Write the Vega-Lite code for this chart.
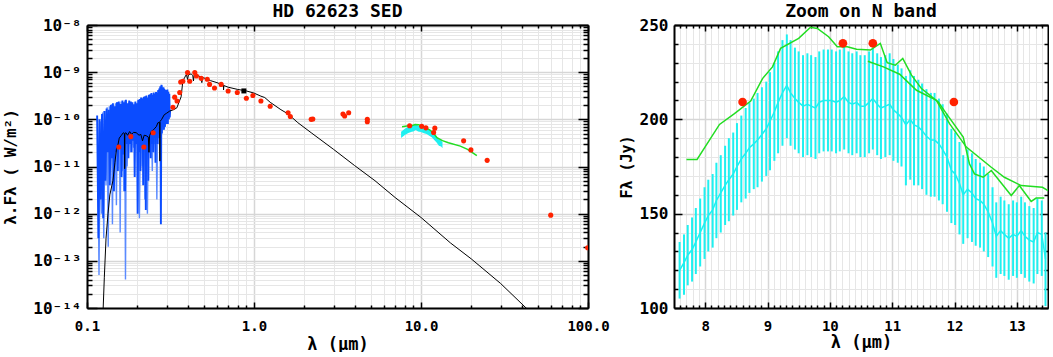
{
  "$schema": "https://vega.github.io/schema/vega-lite/v6.json",
  "padding": {"left": 2, "top": 3, "right": 0, "bottom": 0},
  "background": "white",
  "bounds": "flush",
  "spacing": 86,
  "config": {
    "view": {"stroke": null},
    "axis": {"labelFont": "DejaVu Sans Mono", "labelFontSize": 14, "labelFontWeight": "bold", "labelColor": "black", "titleFont": "DejaVu Sans Mono", "titleFontSize": 17, "titleFontWeight": "bold", "titleColor": "black", "tickColor": "black", "tickWidth": 1.5, "domainColor": "black", "domainWidth": 2, "labelFlush": false, "labelOverlap": false, "labelBound": false},
    "title": {"font": "DejaVu Sans Mono", "fontSize": 18, "fontWeight": "bold", "color": "black", "offset": -4, "anchor": "middle"}
  },
  "datasets": {
    "bl": [
      {"l":0.116,"v":1.0e-10},{"l":0.118,"v":5e-14},{"l":0.120,"v":9e-11},{"l":0.122,"v":1e-12},{"l":0.124,"v":1.4e-10},{"l":0.126,"v":3e-13},{"l":0.128,"v":1.5e-10},{"l":0.130,"v":4e-12},{"l":0.132,"v":1.8e-10},{"l":0.134,"v":2e-13},{"l":0.136,"v":1.9e-10},{"l":0.138,"v":1e-11},{"l":0.140,"v":2.1e-10},{"l":0.142,"v":6e-13},{"l":0.144,"v":2.0e-10},{"l":0.146,"v":5e-12},{"l":0.148,"v":2.2e-10},{"l":0.150,"v":1.5e-12},{"l":0.152,"v":2.3e-10},{"l":0.154,"v":2e-11},{"l":0.156,"v":2.2e-10},{"l":0.158,"v":4e-13},{"l":0.160,"v":2.4e-10},{"l":0.162,"v":8e-12},{"l":0.164,"v":2.2e-10},{"l":0.166,"v":3e-12},{"l":0.168,"v":2.5e-10},{"l":0.170,"v":4e-14},{"l":0.172,"v":2.4e-10},{"l":0.174,"v":1e-11},{"l":0.178,"v":2.3e-10},{"l":0.182,"v":2e-11},{"l":0.186,"v":2.2e-10},{"l":0.190,"v":2.5e-11},{"l":0.194,"v":2.3e-10},{"l":0.198,"v":3e-11},{"l":0.202,"v":2.5e-10},{"l":0.206,"v":8e-13},{"l":0.210,"v":2.8e-10},{"l":0.214,"v":1e-11},{"l":0.218,"v":2.9e-10},{"l":0.222,"v":2e-12},{"l":0.226,"v":3.0e-10},{"l":0.230,"v":1e-12},{"l":0.234,"v":3.2e-10},{"l":0.238,"v":2e-11},{"l":0.242,"v":3.4e-10},{"l":0.246,"v":8e-12},{"l":0.250,"v":3.5e-10},{"l":0.254,"v":3e-11},{"l":0.258,"v":3.7e-10},{"l":0.262,"v":2e-12},{"l":0.266,"v":4.0e-10},{"l":0.270,"v":4e-11},{"l":0.274,"v":4.8e-10},{"l":0.278,"v":5e-11},{"l":0.282,"v":5.2e-10},{"l":0.286,"v":6e-11},{"l":0.290,"v":4.5e-10},{"l":0.294,"v":7e-11},{"l":0.298,"v":4.1e-10},{"l":0.302,"v":9e-11},{"l":0.306,"v":3.9e-10},{"l":0.310,"v":1e-10}
    ],
    "bd": [
      {"l":0.115,"v":1.2e-10},{"l":0.117,"v":3e-13},{"l":0.119,"v":1.0e-10},{"l":0.121,"v":2e-12},{"l":0.123,"v":1.3e-10},{"l":0.125,"v":8e-13},{"l":0.127,"v":1.5e-10},{"l":0.129,"v":5e-12},{"l":0.131,"v":1.7e-10},{"l":0.133,"v":2e-11},{"l":0.135,"v":1.6e-10},{"l":0.137,"v":4e-12},{"l":0.139,"v":2.0e-10},{"l":0.141,"v":1.5e-11},{"l":0.143,"v":2.2e-10},{"l":0.145,"v":3e-12},{"l":0.147,"v":1.9e-10},{"l":0.149,"v":2e-11},{"l":0.151,"v":2.3e-10},{"l":0.153,"v":8e-12},{"l":0.155,"v":2.4e-10},{"l":0.157,"v":2.5e-11},{"l":0.159,"v":2.1e-10},{"l":0.161,"v":6e-12},{"l":0.163,"v":2.5e-10},{"l":0.165,"v":1.8e-11},{"l":0.167,"v":2.3e-10},{"l":0.169,"v":3e-12},{"l":0.171,"v":2.6e-10},{"l":0.173,"v":3e-11},{"l":0.175,"v":2.2e-10},{"l":0.177,"v":1.5e-11},{"l":0.179,"v":2.5e-10},{"l":0.181,"v":3e-11},{"l":0.183,"v":2.4e-10},{"l":0.185,"v":2e-11},{"l":0.187,"v":2.3e-10},{"l":0.189,"v":3.5e-11},{"l":0.191,"v":2.1e-10},{"l":0.193,"v":6e-12},{"l":0.195,"v":2.4e-10},{"l":0.197,"v":3e-11},{"l":0.199,"v":2.2e-10},{"l":0.201,"v":1e-12},{"l":0.203,"v":2.6e-10},{"l":0.205,"v":2e-11},{"l":0.207,"v":2.7e-10},{"l":0.209,"v":8e-12},{"l":0.211,"v":2.9e-10},{"l":0.213,"v":2.5e-11},{"l":0.215,"v":2.8e-10},{"l":0.217,"v":4e-12},{"l":0.219,"v":3.0e-10},{"l":0.221,"v":3e-11},{"l":0.223,"v":3.1e-10},{"l":0.225,"v":1.2e-12},{"l":0.227,"v":3.2e-10},{"l":0.229,"v":2e-11},{"l":0.231,"v":2.9e-10},{"l":0.233,"v":5e-12},{"l":0.235,"v":3.3e-10},{"l":0.237,"v":3e-11},{"l":0.239,"v":3.4e-10},{"l":0.241,"v":1.5e-11},{"l":0.243,"v":3.6e-10},{"l":0.245,"v":3e-11},{"l":0.247,"v":3.3e-10},{"l":0.249,"v":2e-11},{"l":0.251,"v":3.7e-10},{"l":0.253,"v":4e-11},{"l":0.255,"v":3.5e-10},{"l":0.257,"v":1.2e-11},{"l":0.259,"v":3.8e-10},{"l":0.261,"v":4e-11},{"l":0.263,"v":3.6e-10},{"l":0.265,"v":3e-11},{"l":0.267,"v":4.2e-10},{"l":0.269,"v":5e-11},{"l":0.271,"v":4.5e-10},{"l":0.273,"v":4e-11},{"l":0.275,"v":5.0e-10},{"l":0.277,"v":6e-13},{"l":0.279,"v":5.4e-10},{"l":0.281,"v":5e-11},{"l":0.283,"v":4.6e-10},{"l":0.285,"v":7e-11},{"l":0.287,"v":4.8e-10},{"l":0.289,"v":6e-11},{"l":0.291,"v":4.4e-10},{"l":0.293,"v":7e-11},{"l":0.295,"v":4.2e-10},{"l":0.297,"v":8e-11},{"l":0.299,"v":4.0e-10},{"l":0.301,"v":9e-11},{"l":0.303,"v":4.3e-10},{"l":0.305,"v":8e-11},{"l":0.307,"v":3.8e-10},{"l":0.309,"v":1e-10},{"l":0.311,"v":3.5e-10},{"l":0.313,"v":1.1e-10},{"l":0.315,"v":1.6e-10}
    ],
    "mod": [
      {"l":0.125,"v":1e-14},{"l":0.127,"v":4.5e-14},{"l":0.13,"v":3e-13},{"l":0.1336,"v":1e-12},{"l":0.137,"v":2.5e-12},{"l":0.141,"v":4e-12},{"l":0.143,"v":5e-12},{"l":0.147,"v":1.2e-11},{"l":0.150,"v":2.3e-11},{"l":0.153,"v":2.8e-11},{"l":0.156,"v":4e-11},{"l":0.16,"v":4.5e-11},{"l":0.165,"v":5.2e-11},{"l":0.1675,"v":5e-11},{"l":0.168,"v":9e-12},{"l":0.1685,"v":5e-11},{"l":0.171,"v":5.2e-11},{"l":0.175,"v":4.6e-11},{"l":0.18,"v":5.5e-11},{"l":0.185,"v":4.8e-11},{"l":0.19,"v":5.3e-11},{"l":0.197,"v":5.2e-11},{"l":0.205,"v":4.6e-11},{"l":0.21,"v":4.8e-11},{"l":0.215,"v":3.5e-11},{"l":0.22,"v":4.6e-11},{"l":0.226,"v":4.5e-11},{"l":0.233,"v":4.2e-11},{"l":0.235,"v":2e-11},{"l":0.237,"v":4.5e-11},{"l":0.243,"v":5.6e-11},{"l":0.25,"v":6e-11},{"l":0.255,"v":6.5e-11},{"l":0.26,"v":7e-11},{"l":0.266,"v":8.5e-11},{"l":0.2725,"v":8.5e-11},{"l":0.273,"v":1.3e-11},{"l":0.2735,"v":9e-11},{"l":0.28,"v":1e-10},{"l":0.29,"v":1.25e-10},{"l":0.30,"v":1.35e-10},{"l":0.313,"v":1.5e-10},{"l":0.33,"v":1.6e-10},{"l":0.345,"v":1.75e-10},{"l":0.358,"v":2.45e-10},{"l":0.366,"v":3e-10},{"l":0.375,"v":6.5e-10},{"l":0.385,"v":7.8e-10},{"l":0.394,"v":9e-10},{"l":0.40,"v":7e-10},{"l":0.405,"v":8.8e-10},{"l":0.42,"v":9.2e-10},{"l":0.43,"v":8.5e-10},{"l":0.434,"v":6.5e-10},{"l":0.438,"v":8.7e-10},{"l":0.45,"v":8.8e-10},{"l":0.486,"v":7.8e-10},{"l":0.487,"v":6e-10},{"l":0.49,"v":7.8e-10},{"l":0.5,"v":7.6e-10},{"l":0.55,"v":6.6e-10},{"l":0.6,"v":6e-10},{"l":0.656,"v":5.3e-10},{"l":0.657,"v":4.2e-10},{"l":0.66,"v":5.2e-10},{"l":0.7,"v":4.8e-10},{"l":0.8,"v":4.3e-10},{"l":0.9,"v":4e-10},{"l":1.0,"v":3.6e-10},{"l":1.1,"v":3.1e-10},{"l":1.16,"v":2.9e-10},{"l":1.25,"v":2.3e-10},{"l":1.45,"v":1.6e-10},{"l":1.6,"v":1.3e-10},{"l":1.83,"v":8.5e-11},{"l":2.2,"v":5.2e-11},{"l":3.0,"v":2.3e-11},{"l":4.0,"v":1.05e-11},{"l":5.3,"v":5e-12},{"l":7.0,"v":2.2e-12},{"l":10,"v":8.3e-13},{"l":15,"v":2.4e-13},{"l":20,"v":1.1e-13},{"l":30,"v":3.3e-14},{"l":42.6,"v":1e-14},{"l":60,"v":3.6e-15}
    ],
    "band": [
      {"l":7.6,"lo":4.03e-11,"hi":5.45e-11},{"l":8.0,"lo":4.66e-11,"hi":6.30e-11},{"l":8.4,"lo":5.13e-11,"hi":6.95e-11},{"l":8.8,"lo":5.45e-11,"hi":7.37e-11},{"l":9.0,"lo":5.55e-11,"hi":7.51e-11},{"l":9.3,"lo":5.95e-11,"hi":8.05e-11},{"l":9.6,"lo":5.50e-11,"hi":7.44e-11},{"l":10.0,"lo":5.36e-11,"hi":7.25e-11},{"l":10.4,"lo":5.10e-11,"hi":6.90e-11},{"l":10.8,"lo":4.89e-11,"hi":6.61e-11},{"l":11.2,"lo":4.51e-11,"hi":6.10e-11},{"l":11.6,"lo":4.17e-11,"hi":5.65e-11},{"l":12.0,"lo":3.66e-11,"hi":4.95e-11},{"l":12.4,"lo":3.23e-11,"hi":4.37e-11},{"l":12.8,"lo":2.77e-11,"hi":3.75e-11},{"l":13.2,"lo":2.64e-11,"hi":3.58e-11},{"l":13.45,"lo":2.43e-11,"hi":3.29e-11}
    ],
    "gsed": [
      {"l":7.70,"v":6.96e-11},{"l":8.23,"v":7.19e-11},{"l":8.73,"v":7.21e-11},{"l":9.21,"v":7.74e-11},{"l":9.69,"v":7.70e-11},{"l":10.12,"v":7.07e-11},{"l":10.65,"v":6.67e-11},{"l":11.31,"v":5.93e-11},{"l":11.87,"v":5.13e-11},{"l":12.46,"v":4.07e-11},{"l":13.44,"v":3.53e-11},{"l":14.6,"v":3.2e-11},{"l":17.2,"v":2.7e-11},{"l":19.0,"v":2.3e-11},{"l":20.0,"v":2.05e-11},{"l":21.6,"v":1.7e-11}
    ],
    "red": [
      {"l":0.155,"v":2.6e-11},{"l":0.183,"v":4.3e-11},{"l":0.219,"v":2.6e-11},{"l":0.249,"v":5.2e-11},{"l":0.327,"v":1.8e-10},{"l":0.335,"v":2.95e-10},{"l":0.346,"v":2.45e-10},{"l":0.359,"v":3.7e-10},{"l":0.364,"v":6.2e-10},{"l":0.375,"v":6.4e-10},{"l":0.40,"v":9.8e-10},{"l":0.412,"v":6.4e-10},{"l":0.442,"v":9.8e-10},{"l":0.452,"v":8.3e-10},{"l":0.483,"v":7.4e-10},{"l":0.525,"v":7.1e-10},{"l":0.542,"v":5.5e-10},{"l":0.58,"v":4.6e-10},{"l":0.636,"v":5.5e-10},{"l":0.70,"v":4.0e-10},{"l":0.794,"v":3.7e-10},{"l":0.90,"v":2.8e-10},{"l":0.985,"v":3.2e-10},{"l":1.10,"v":2.45e-10},{"l":1.25,"v":1.9e-10},{"l":1.60,"v":1.38e-10},{"l":1.65,"v":1.15e-10},{"l":2.2,"v":1.0e-10},{"l":2.25,"v":1.02e-10},{"l":3.41,"v":1.29e-10},{"l":3.49,"v":1.18e-10},{"l":3.69,"v":1.38e-10},{"l":4.77,"v":1.0e-10},{"l":4.77,"v":8.9e-11},{"l":8.55,"v":7.3e-11},{"l":10.1,"v":7.1e-11},{"l":10.7,"v":6.6e-11},{"l":12.1,"v":6.5e-11},{"l":11.9,"v":5.25e-11},{"l":18.0,"v":3.5e-11},{"l":19.9,"v":2.25e-11},{"l":24.9,"v":1.35e-11},{"l":59.8,"v":9.3e-13},{"l":99.5,"v":1.9e-13}
    ],
    "blk": [{"l":0.87,"v":4.0e-10}],
    "midi": [
      {"l":7.59,"c":120,"lo":105,"hi":135},{"l":7.66,"c":124,"lo":107,"hi":139},{"l":7.72,"c":128,"lo":112,"hi":144},{"l":7.79,"c":131,"lo":114,"hi":148},{"l":7.85,"c":135,"lo":118,"hi":153},{"l":7.92,"c":140,"lo":122,"hi":158},{"l":7.99,"c":145,"lo":126,"hi":164},{"l":8.05,"c":149,"lo":130,"hi":168},{"l":8.12,"c":152,"lo":132,"hi":171},{"l":8.18,"c":157,"lo":137,"hi":177},{"l":8.25,"c":161,"lo":140,"hi":181},{"l":8.32,"c":165,"lo":144,"hi":186},{"l":8.38,"c":168,"lo":146,"hi":190},{"l":8.45,"c":171,"lo":149,"hi":193},{"l":8.51,"c":175,"lo":152,"hi":198},{"l":8.58,"c":179,"lo":156,"hi":202},{"l":8.65,"c":182,"lo":158,"hi":206},{"l":8.71,"c":185,"lo":161,"hi":209},{"l":8.78,"c":187,"lo":163,"hi":211},{"l":8.84,"c":189,"lo":164,"hi":214},{"l":8.91,"c":192,"lo":167,"hi":217},{"l":8.98,"c":195,"lo":170,"hi":220},{"l":9.04,"c":199,"lo":173,"hi":225},{"l":9.11,"c":204,"lo":178,"hi":230},{"l":9.17,"c":209,"lo":182,"hi":236},{"l":9.24,"c":214,"lo":186,"hi":242},{"l":9.31,"c":218,"lo":190,"hi":245},{"l":9.37,"c":214,"lo":186,"hi":242},{"l":9.44,"c":211,"lo":184,"hi":238},{"l":9.50,"c":209,"lo":182,"hi":236},{"l":9.57,"c":207,"lo":180,"hi":234},{"l":9.64,"c":208,"lo":181,"hi":235},{"l":9.70,"c":207,"lo":180,"hi":234},{"l":9.77,"c":206,"lo":179,"hi":233},{"l":9.83,"c":209,"lo":182,"hi":236},{"l":9.90,"c":210,"lo":183,"hi":237},{"l":9.97,"c":210,"lo":183,"hi":237},{"l":10.03,"c":210,"lo":183,"hi":237},{"l":10.10,"c":209,"lo":182,"hi":236},{"l":10.16,"c":210,"lo":183,"hi":237},{"l":10.23,"c":212,"lo":184,"hi":240},{"l":10.30,"c":209,"lo":182,"hi":236},{"l":10.36,"c":208,"lo":181,"hi":235},{"l":10.43,"c":209,"lo":182,"hi":236},{"l":10.49,"c":207,"lo":180,"hi":234},{"l":10.56,"c":207,"lo":180,"hi":234},{"l":10.63,"c":209,"lo":182,"hi":236},{"l":10.69,"c":211,"lo":184,"hi":238},{"l":10.76,"c":208,"lo":181,"hi":235},{"l":10.82,"c":206,"lo":179,"hi":233},{"l":10.89,"c":207,"lo":180,"hi":234},{"l":10.96,"c":208,"lo":181,"hi":235},{"l":11.02,"c":205,"lo":178,"hi":232},{"l":11.09,"c":203,"lo":177,"hi":229},{"l":11.15,"c":201,"lo":175,"hi":227},{"l":11.22,"c":197,"lo":165,"hi":223},{"l":11.29,"c":200,"lo":168,"hi":226},{"l":11.35,"c":197,"lo":165,"hi":223},{"l":11.42,"c":196,"lo":165,"hi":221},{"l":11.48,"c":194,"lo":163,"hi":219},{"l":11.55,"c":191,"lo":160,"hi":216},{"l":11.62,"c":189,"lo":159,"hi":214},{"l":11.68,"c":189,"lo":159,"hi":214},{"l":11.75,"c":187,"lo":157,"hi":211},{"l":11.81,"c":184,"lo":155,"hi":208},{"l":11.88,"c":180,"lo":151,"hi":203},{"l":11.95,"c":173,"lo":145,"hi":195},{"l":12.01,"c":171,"lo":144,"hi":193},{"l":12.08,"c":166,"lo":139,"hi":188},{"l":12.14,"c":160,"lo":134,"hi":181},{"l":12.21,"c":163,"lo":137,"hi":184},{"l":12.28,"c":161,"lo":135,"hi":182},{"l":12.34,"c":158,"lo":133,"hi":179},{"l":12.41,"c":157,"lo":132,"hi":177},{"l":12.47,"c":155,"lo":130,"hi":175},{"l":12.54,"c":151,"lo":127,"hi":171},{"l":12.61,"c":145,"lo":122,"hi":164},{"l":12.67,"c":138,"lo":116,"hi":156},{"l":12.74,"c":141,"lo":118,"hi":159},{"l":12.80,"c":139,"lo":117,"hi":157},{"l":12.87,"c":137,"lo":115,"hi":155},{"l":12.94,"c":139,"lo":117,"hi":157},{"l":13.00,"c":138,"lo":116,"hi":156},{"l":13.07,"c":141,"lo":118,"hi":159},{"l":13.13,"c":138,"lo":116,"hi":156},{"l":13.20,"c":136,"lo":114,"hi":154},{"l":13.27,"c":135,"lo":113,"hi":153},{"l":13.33,"c":140,"lo":118,"hi":158},{"l":13.40,"c":139,"lo":117,"hi":157},{"l":13.46,"c":126,"lo":101,"hi":140}
    ],
    "green": [
      {"s":1,"l":7.70,"f":178.7},{"s":1,"l":7.87,"f":178.7},{"s":1,"l":8.23,"f":197.3},{"s":1,"l":8.47,"f":203},{"s":1,"l":8.73,"f":209.7},{"s":1,"l":8.92,"f":221.6},{"s":1,"l":9.08,"f":227.8},{"s":1,"l":9.21,"f":237.6},{"s":1,"l":9.50,"f":242.9},{"s":1,"l":9.69,"f":248.8},{"s":1,"l":9.80,"f":248.2},{"s":1,"l":9.98,"f":243.8},{"s":1,"l":10.12,"f":238.5},{"s":1,"l":10.28,"f":238.5},{"s":1,"l":10.43,"f":237.2},{"s":1,"l":10.65,"f":236.7},{"s":1,"l":10.81,"f":240.3},{"s":1,"l":10.92,"f":230},{"s":1,"l":11.05,"f":228.7},{"s":1,"l":11.17,"f":232.3},{"s":1,"l":11.31,"f":223.4},{"s":1,"l":11.47,"f":216.3},{"s":1,"l":11.74,"f":209.2},{"s":1,"l":11.87,"f":203},{"s":1,"l":12.14,"f":190.6},{"s":1,"l":12.24,"f":176.4},{"s":1,"l":12.32,"f":171.1},{"s":1,"l":12.46,"f":169.3},{"s":1,"l":12.59,"f":172.9},{"s":1,"l":12.91,"f":159.6},{"s":1,"l":13.04,"f":164.9},{"s":1,"l":13.23,"f":156.5},{"s":1,"l":13.31,"f":158.3},{"s":1,"l":13.44,"f":158.3},
      {"s":2,"l":10.61,"f":230.8},{"s":2,"l":10.86,"f":227.8},{"s":2,"l":11.12,"f":223.9},{"s":2,"l":11.39,"f":215.4},{"s":2,"l":11.71,"f":210.1},{"s":2,"l":11.92,"f":197.7},{"s":2,"l":12.19,"f":185.3},{"s":2,"l":12.59,"f":174.6},{"s":2,"l":12.80,"f":169.3},{"s":2,"l":13.07,"f":164.9},{"s":2,"l":13.41,"f":164},{"s":2,"l":13.5,"f":162.2}
    ],
    "redn": [
      {"l":8.60,"f":209.2},{"l":10.21,"f":240.3},{"l":10.69,"f":240.3},{"l":11.99,"f":209.2}
    ]
  },
  "hconcat": [
    {
      "width": 501,
      "height": 283,
      "title": {"text": "HD 62623 SED"},
      "resolve": {"axis": {"x": "independent", "y": "independent"}},
      "layer": [
        {
          "data": {"name": "bl"},
          "mark": {"type": "line", "color": "#5a8aff", "strokeWidth": 1.4, "clip": true},
          "encoding": {
            "x": {"field": "l", "type": "quantitative", "scale": {"type": "log", "domain": [0.1, 100], "nice": false},
              "axis": {"orient": "bottom", "values": [0.1, 1, 10, 100], "labelExpr": "format(datum.value, '.1f')", "tickSize": -6, "labelPadding": 17, "grid": true, "gridColor": "#d6d6d6", "gridWidth": 1.5, "title": "λ (μm)", "titlePadding": 3}},
            "y": {"field": "v", "type": "quantitative", "scale": {"type": "log", "domain": [1e-14, 1e-8], "nice": false},
              "axis": {"orient": "left", "values": [1e-14, 1e-13, 1e-12, 1e-11, 1e-10, 1e-9, 1e-8], "labelExpr": "datum.value < 5e-14 ? '10⁻¹⁴' : datum.value < 5e-13 ? '10⁻¹³' : datum.value < 5e-12 ? '10⁻¹²' : datum.value < 5e-11 ? '10⁻¹¹' : datum.value < 5e-10 ? '10⁻¹⁰' : datum.value < 5e-9 ? '10⁻⁹' : '10⁻⁸'", "labelFontSize": 16, "tickSize": -10, "labelPadding": 16, "grid": true, "gridColor": "#d6d6d6", "gridWidth": 1.5, "title": "λ.Fλ  ( W/m²)", "titleFontSize": 16, "titlePadding": 14}}
          }
        },
        {
          "data": {"name": "bd"},
          "mark": {"type": "line", "color": "#0b4cff", "strokeWidth": 1.9, "clip": true},
          "encoding": {
            "x": {"field": "l", "type": "quantitative", "scale": {"type": "log", "domain": [0.1, 100], "nice": false},
              "axis": {"orient": "bottom", "values": [0.2, 0.3, 0.4, 0.5, 0.6, 0.7, 0.8, 0.9, 2, 3, 4, 5, 6, 7, 8, 9, 20, 30, 40, 50, 60, 70, 80, 90], "labels": false, "tickSize": -3, "domain": false, "grid": true, "gridColor": "#e6e6e6", "gridWidth": 1, "title": null}},
            "y": {"field": "v", "type": "quantitative", "scale": {"type": "log", "domain": [1e-14, 1e-8], "nice": false},
              "axis": {"orient": "left", "values": [2e-14, 3e-14, 4e-14, 5e-14, 6e-14, 7e-14, 8e-14, 9e-14, 2e-13, 3e-13, 4e-13, 5e-13, 6e-13, 7e-13, 8e-13, 9e-13, 2e-12, 3e-12, 4e-12, 5e-12, 6e-12, 7e-12, 8e-12, 9e-12, 2e-11, 3e-11, 4e-11, 5e-11, 6e-11, 7e-11, 8e-11, 9e-11, 2e-10, 3e-10, 4e-10, 5e-10, 6e-10, 7e-10, 8e-10, 9e-10, 2e-9, 3e-9, 4e-9, 5e-9, 6e-9, 7e-9, 8e-9, 9e-9], "labels": false, "tickSize": -5, "domain": false, "grid": true, "gridColor": "#e6e6e6", "gridWidth": 1, "title": null}}
          }
        },
        {
          "data": {"name": "mod"},
          "mark": {"type": "line", "color": "black", "strokeWidth": 1, "clip": true},
          "encoding": {
            "x": {"field": "l", "type": "quantitative", "scale": {"type": "log", "domain": [0.1, 100], "nice": false},
              "axis": {"orient": "top", "values": [0.1, 1, 10, 100], "labels": false, "tickSize": -6, "grid": false, "title": null}},
            "y": {"field": "v", "type": "quantitative", "scale": {"type": "log", "domain": [1e-14, 1e-8], "nice": false},
              "axis": {"orient": "right", "values": [1e-14, 1e-13, 1e-12, 1e-11, 1e-10, 1e-9, 1e-8], "labels": false, "tickSize": -10, "grid": false, "title": null}}
          }
        },
        {
          "data": {"name": "band"},
          "mark": {"type": "area", "color": "#1ef0f0", "opacity": 1, "clip": true},
          "encoding": {
            "x": {"field": "l", "type": "quantitative", "scale": {"type": "log", "domain": [0.1, 100], "nice": false},
              "axis": {"orient": "top", "values": [0.2, 0.3, 0.4, 0.5, 0.6, 0.7, 0.8, 0.9, 2, 3, 4, 5, 6, 7, 8, 9, 20, 30, 40, 50, 60, 70, 80, 90], "labels": false, "tickSize": -3, "domain": false, "grid": false, "title": null}},
            "y": {"field": "lo", "type": "quantitative", "scale": {"type": "log", "domain": [1e-14, 1e-8], "nice": false},
              "axis": {"orient": "right", "values": [2e-14, 3e-14, 4e-14, 5e-14, 6e-14, 7e-14, 8e-14, 9e-14, 2e-13, 3e-13, 4e-13, 5e-13, 6e-13, 7e-13, 8e-13, 9e-13, 2e-12, 3e-12, 4e-12, 5e-12, 6e-12, 7e-12, 8e-12, 9e-12, 2e-11, 3e-11, 4e-11, 5e-11, 6e-11, 7e-11, 8e-11, 9e-11, 2e-10, 3e-10, 4e-10, 5e-10, 6e-10, 7e-10, 8e-10, 9e-10, 2e-9, 3e-9, 4e-9, 5e-9, 6e-9, 7e-9, 8e-9, 9e-9], "labels": false, "tickSize": -5, "domain": false, "grid": false, "title": null}},
            "y2": {"field": "hi"}
          }
        },
        {
          "data": {"name": "gsed"},
          "mark": {"type": "line", "color": "#22dd22", "strokeWidth": 1.5, "clip": true},
          "encoding": {
            "x": {"field": "l", "type": "quantitative", "scale": {"type": "log", "domain": [0.1, 100], "nice": false}, "axis": null},
            "y": {"field": "v", "type": "quantitative", "scale": {"type": "log", "domain": [1e-14, 1e-8], "nice": false}, "axis": null}
          }
        },
        {
          "data": {"name": "red"},
          "mark": {"type": "circle", "color": "#ff2200", "opacity": 1, "size": 26, "clip": true},
          "encoding": {
            "x": {"field": "l", "type": "quantitative", "scale": {"type": "log", "domain": [0.1, 100], "nice": false}, "axis": null},
            "y": {"field": "v", "type": "quantitative", "scale": {"type": "log", "domain": [1e-14, 1e-8], "nice": false}, "axis": null}
          }
        },
        {
          "data": {"name": "blk"},
          "mark": {"type": "square", "color": "black", "opacity": 1, "size": 25, "clip": true},
          "encoding": {
            "x": {"field": "l", "type": "quantitative", "scale": {"type": "log", "domain": [0.1, 100], "nice": false}, "axis": null},
            "y": {"field": "v", "type": "quantitative", "scale": {"type": "log", "domain": [1e-14, 1e-8], "nice": false}, "axis": null}
          }
        }
      ]
    },
    {
      "width": 374,
      "height": 283,
      "title": {"text": "Zoom on N band"},
      "resolve": {"axis": {"x": "independent", "y": "independent"}},
      "layer": [
        {
          "data": {"name": "midi"},
          "mark": {"type": "rule", "color": "#1ef0f0", "strokeWidth": 2, "clip": true},
          "encoding": {
            "x": {"field": "l", "type": "quantitative", "scale": {"domain": [7.5, 13.5], "nice": false, "zero": false},
              "axis": {"orient": "bottom", "values": [8, 9, 10, 11, 12, 13], "format": "d", "tickSize": -6, "labelPadding": 17, "grid": true, "gridColor": "#d6d6d6", "gridWidth": 1.5, "title": "λ (μm)", "titlePadding": 1}},
            "y": {"field": "lo", "type": "quantitative", "scale": {"domain": [100, 250], "nice": false, "zero": false},
              "axis": {"orient": "left", "values": [100, 150, 200, 250], "format": "d", "labelFontSize": 16, "tickSize": -8, "labelPadding": 14, "grid": true, "gridColor": "#d6d6d6", "gridWidth": 1.5, "title": "Fλ  (Jy)", "titleFontSize": 15, "titlePadding": 5}},
            "y2": {"field": "hi"}
          }
        },
        {
          "data": {"name": "midi"},
          "mark": {"type": "line", "color": "#1ef0f0", "strokeWidth": 1.5, "clip": true},
          "encoding": {
            "x": {"field": "l", "type": "quantitative", "scale": {"domain": [7.5, 13.5], "nice": false, "zero": false},
              "axis": {"orient": "bottom", "values": [7.6, 7.7, 7.8, 7.9, 8.1, 8.2, 8.3, 8.4, 8.5, 8.6, 8.7, 8.8, 8.9, 9.1, 9.2, 9.3, 9.4, 9.5, 9.6, 9.7, 9.8, 9.9, 10.1, 10.2, 10.3, 10.4, 10.5, 10.6, 10.7, 10.8, 10.9, 11.1, 11.2, 11.3, 11.4, 11.5, 11.6, 11.7, 11.8, 11.9, 12.1, 12.2, 12.3, 12.4, 12.5, 12.6, 12.7, 12.8, 12.9, 13.1, 13.2, 13.3, 13.4], "labels": false, "tickSize": -3, "domain": false, "grid": true, "gridColor": "#e6e6e6", "gridWidth": 1, "title": null}},
            "y": {"field": "c", "type": "quantitative", "scale": {"domain": [100, 250], "nice": false, "zero": false},
              "axis": {"orient": "left", "values": [110, 120, 130, 140, 160, 170, 180, 190, 210, 220, 230, 240], "labels": false, "tickSize": -4, "domain": false, "grid": true, "gridColor": "#e6e6e6", "gridWidth": 1, "title": null}}
          }
        },
        {
          "data": {"name": "green"},
          "mark": {"type": "line", "color": "#22dd22", "strokeWidth": 1.5, "clip": true},
          "encoding": {
            "x": {"field": "l", "type": "quantitative", "scale": {"domain": [7.5, 13.5], "nice": false, "zero": false},
              "axis": {"orient": "top", "values": [8, 9, 10, 11, 12, 13], "labels": false, "tickSize": -6, "grid": false, "title": null}},
            "y": {"field": "f", "type": "quantitative", "scale": {"domain": [100, 250], "nice": false, "zero": false},
              "axis": {"orient": "right", "values": [100, 150, 200, 250], "labels": false, "tickSize": -8, "grid": false, "title": null}},
            "detail": {"field": "s", "type": "nominal"}
          }
        },
        {
          "data": {"name": "redn"},
          "mark": {"type": "circle", "color": "#ff2200", "opacity": 1, "size": 75, "clip": true},
          "encoding": {
            "x": {"field": "l", "type": "quantitative", "scale": {"domain": [7.5, 13.5], "nice": false, "zero": false},
              "axis": {"orient": "top", "values": [7.6, 7.7, 7.8, 7.9, 8.1, 8.2, 8.3, 8.4, 8.5, 8.6, 8.7, 8.8, 8.9, 9.1, 9.2, 9.3, 9.4, 9.5, 9.6, 9.7, 9.8, 9.9, 10.1, 10.2, 10.3, 10.4, 10.5, 10.6, 10.7, 10.8, 10.9, 11.1, 11.2, 11.3, 11.4, 11.5, 11.6, 11.7, 11.8, 11.9, 12.1, 12.2, 12.3, 12.4, 12.5, 12.6, 12.7, 12.8, 12.9, 13.1, 13.2, 13.3, 13.4], "labels": false, "tickSize": -3, "domain": false, "grid": false, "title": null}},
            "y": {"field": "f", "type": "quantitative", "scale": {"domain": [100, 250], "nice": false, "zero": false},
              "axis": {"orient": "right", "values": [110, 120, 130, 140, 160, 170, 180, 190, 210, 220, 230, 240], "labels": false, "tickSize": -4, "domain": false, "grid": false, "title": null}}
          }
        }
      ]
    }
  ]
}
